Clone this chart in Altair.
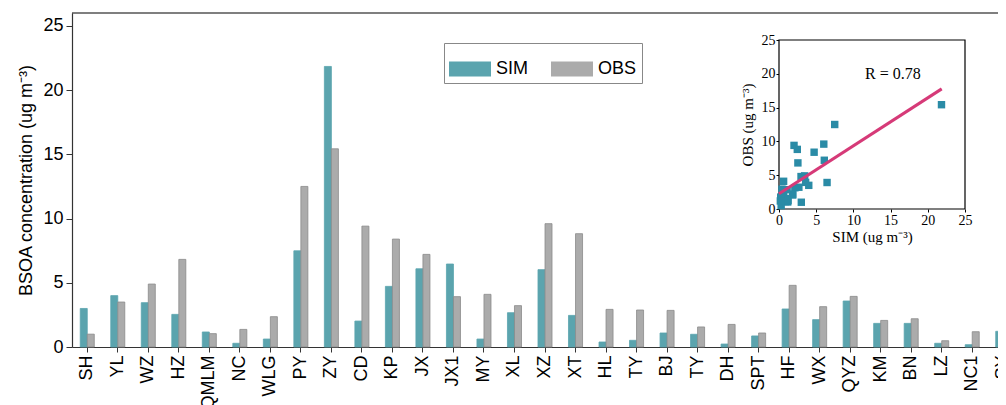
import altair as alt
import pandas as pd

# ---- data ----
sites = ["SH", "YL", "WZ", "HZ", "QMLM", "NC", "WLG", "PY", "ZY", "CD", "KP", "JX",
         "JX1", "MY", "XL", "XZ", "XT", "HL", "TY", "BJ", "TY", "DH", "SPT", "HF",
         "WX", "QYZ", "KM", "BN", "LZ", "NC1", "SY"]
sim = [3.0, 4.0, 3.45, 2.54, 1.17, 0.29, 0.62, 7.49, 21.84, 2.02, 4.72, 6.09,
       6.46, 0.62, 2.67, 6.02, 2.46, 0.39, 0.52, 1.09, 0.99, 0.23, 0.86, 2.96,
       2.13, 3.58, 1.84, 1.84, 0.29, 0.18, 1.22]
obs = [1.0, 3.5, 4.9, 6.82, 1.04, 1.37, 2.36, 12.5, 15.43, 9.41, 8.4, 7.21,
       3.92, 4.1, 3.22, 9.6, 8.82, 2.93, 2.88, 2.85, 1.56, 1.76, 1.09, 4.8,
       3.14, 3.94, 2.07, 2.2, 0.49, 1.19, 1.24]
series = ["SIM", "OBS"]
y_ticks = [0, 5, 10, 15, 20, 25]
y_top = [26]
inset_ticks = [0, 5, 10, 15, 20, 25]
fit_sim = [0.0, 21.87]
fit_obs = [2.26, 17.77]
r_text = ["R = 0.78"]
r_sim = [15.3]
r_obs = [20.0]
frame_lo = [0]
frame_hi = [25]

fill_colors = ["#5BA4AE", "#ABABAB"]
stroke_colors = ["#5BA4AE", "#8A8A8A"]

n = len(sites)
keys = [f"{i:02d}|{s}" for i, s in enumerate(sites)]
bar_df = pd.DataFrame({
    "key": keys * 2,
    "series": ["SIM"] * n + ["OBS"] * n,
    "value": sim + obs,
})

SANS = "Liberation Sans"
SERIF = "Liberation Serif"
PLOT_W = 926
PLOT_H = 334

ysc = alt.Scale(domain=[0, 26], nice=False)
y_axis_main = alt.Axis(values=y_ticks, title="BSOA concentration (ug m⁻³)",
                       grid=False, labelFont=SANS, labelFontSize=18,
                       labelColor="black", tickSize=6, tickColor="#333",
                       domainColor="#333", domainWidth=1.2, labelPadding=3,
                       titleFont=SANS, titleFontSize=18, titleFontWeight="normal",
                       titleColor="black", titlePadding=7)

bars = alt.Chart(bar_df).mark_bar(strokeWidth=0.8).encode(
    x=alt.X("key:N", sort=keys,
            scale=alt.Scale(paddingInner=0.54, paddingOuter=0.27, range=[0, 946]),
            axis=alt.Axis(title=None, labelExpr="split(datum.value, '|')[1]",
                          labelAngle=-90, labelFont=SANS, labelFontSize=18,
                          labelColor="black", tickSize=5, tickColor="#333",
                          domainColor="#333", domainWidth=1.2, labelPadding=3)),
    xOffset=alt.XOffset("series:N", sort=series,
                        scale=alt.Scale(domain=series, paddingInner=0, paddingOuter=0)),
    y=alt.Y("value:Q", scale=ysc, axis=y_axis_main),
    fill=alt.Fill("series:N", sort=series,
                  scale=alt.Scale(domain=series, range=fill_colors),
                  legend=alt.Legend(title=None, orient="none", legendX=372, legendY=30,
                                    direction="horizontal",
                                    symbolType="M-1,-0.36H1V0.36H-1Z", symbolSize=1764,
                                    symbolStrokeWidth=0, symbolOpacity=1,
                                    labelFont=SANS, labelFontSize=18, labelColor="black",
                                    strokeColor="#888", fillColor="white", padding=5,
                                    columnPadding=22, labelOffset=5)),
    stroke=alt.Stroke("series:N", scale=alt.Scale(domain=series, range=stroke_colors),
                      legend=None),
)

top_df = pd.DataFrame({"top": y_top})
topline = alt.Chart(top_df).mark_rule(color="black", strokeWidth=1.2).encode(
    y=alt.Y("top:Q", scale=ysc, axis=y_axis_main),
    x=alt.value(0), x2=alt.value(PLOT_W + 20),
)
main = alt.layer(bars, topline)

# ---- inset scatter ----
xs = alt.Scale(domain=[0, 25], range=[707, 893], nice=False, zero=False)
ys = alt.Scale(domain=[0, 25], range=[196, 27], nice=False, zero=False)
x_axis = alt.Axis(orient="bottom", offset=-138, values=inset_ticks, grid=False,
                  domain=False, title="SIM (ug m⁻³)", titleFont=SERIF,
                  titleFontSize=15, titleFontWeight="normal", titleColor="black",
                  titlePadding=2, labelFont=SERIF, labelFontSize=14, labelColor="black",
                  labelFlush=False, tickSize=3, tickColor="black", labelPadding=1)
y_axis = alt.Axis(orient="left", offset=-707, values=inset_ticks, grid=False,
                  domain=False, title="OBS (ug m⁻³)", titleFont=SERIF,
                  titleFontSize=15, titleFontWeight="normal", titleColor="black",
                  titlePadding=6, labelFont=SERIF, labelFontSize=14, labelColor="black",
                  labelFlush=False, tickSize=3, tickColor="black", labelPadding=1)

frame_df = pd.DataFrame({"x0": frame_lo, "x1": frame_hi, "y0": frame_lo, "y1": frame_hi})
frame = alt.Chart(frame_df).mark_rect(fill="white", stroke="black", strokeWidth=1.2).encode(
    x=alt.X("x0:Q", scale=xs, axis=x_axis), x2="x1:Q",
    y=alt.Y("y0:Q", scale=ys, axis=y_axis), y2="y1:Q",
)
sc_df = pd.DataFrame({"sim": sim, "obs": obs})
points = alt.Chart(sc_df).mark_square(size=55, color="#2A8BA6", opacity=1).encode(
    x=alt.X("sim:Q", scale=xs, axis=x_axis),
    y=alt.Y("obs:Q", scale=ys, axis=y_axis),
)
fit_df = pd.DataFrame({"sim": fit_sim, "obs": fit_obs})
fit = alt.Chart(fit_df).mark_line(color="#D63A78", strokeWidth=3).encode(
    x=alt.X("sim:Q", scale=xs, axis=x_axis),
    y=alt.Y("obs:Q", scale=ys, axis=y_axis),
)
txt_df = pd.DataFrame({"sim": r_sim, "obs": r_obs, "t": r_text})
rtext = alt.Chart(txt_df).mark_text(font=SERIF, fontSize=16, color="black").encode(
    x=alt.X("sim:Q", scale=xs, axis=x_axis),
    y=alt.Y("obs:Q", scale=ys, axis=y_axis),
    text="t:N",
)
inset = alt.layer(frame, points, fit, rtext)

chart = alt.layer(main, inset).resolve_scale(
    x="independent", y="independent"
).properties(
    width=PLOT_W, height=PLOT_H,
    autosize=alt.AutoSizeParams(type="none"),
    padding={"left": 64, "top": 5, "right": 0, "bottom": 58},
).configure_view(stroke=None)

chart.save("out.html", embed_options={"renderer": "svg", "actions": False})
